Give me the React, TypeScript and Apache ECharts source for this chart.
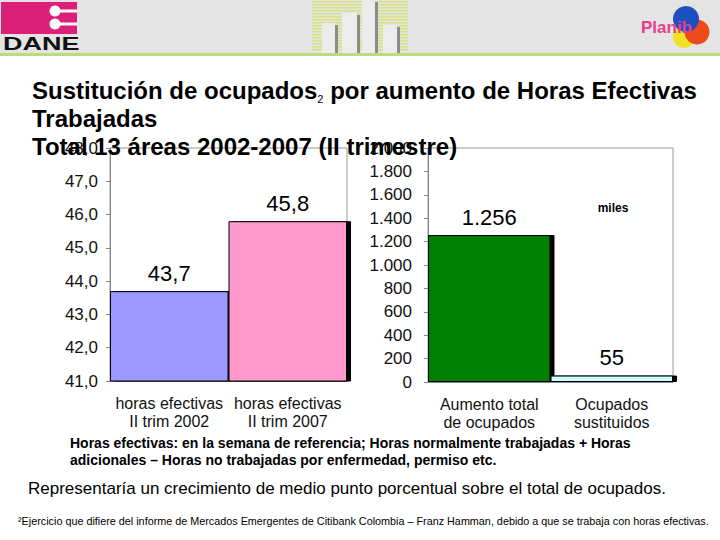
import React, { useEffect, useRef } from "react";
import * as echarts from "echarts";

const hoursCategories = ["horas efectivas\nII trim 2002", "horas efectivas\nII trim 2007"];
const hoursValues = [43.7, 45.8];
const hoursColors = ["#9999ff", "#ff99cc"];
const hoursMin = 41;
const hoursMax = 48;
const hoursStep = 1;

const workersCategories = ["Aumento total\nde ocupados", "Ocupados\nsustituidos"];
const workersValues = [1256, 55];
const workersColors = ["#008000", "#ccffff"];
const workersMin = 0;
const workersMax = 2000;
const workersStep = 200;

const titleLines = [
  "Sustitución de ocupados{sub|2} por aumento de Horas Efectivas",
  "Trabajadas",
  "Total 13 áreas 2002-2007 (II trimestre)",
];
const noteLines = [
  "Horas efectivas: en la semana de referencia; Horas normalmente trabajadas + Horas",
  "adicionales – Horas no trabajadas por enfermedad, permiso etc.",
];
const conclusion = "Representaría un crecimiento de medio punto porcentual sobre el total de ocupados.";
const footnote =
  "²Ejercicio que difiere del informe de Mercados Emergentes de Citibank Colombia – Franz Hamman, debido a que se trabaja con horas efectivas.";
const unitLabel = "miles";

const FONT = "'Liberation Sans', Arial, sans-serif";

const fmtComma = (v: number) => v.toFixed(1).replace(".", ",");
const fmtThousands = (v: number) => String(Math.round(v)).replace(/\B(?=(\d{3})+(?!\d))/g, ".");

function headerGraphics(): any[] {
  const g: any[] = [];
  g.push({ type: "rect", shape: { x: 0, y: 0, width: 720, height: 53 }, style: { fill: "#e4e4e4" }, z: 0 });
  g.push({ type: "rect", shape: { x: 0, y: 53, width: 720, height: 3 }, style: { fill: "#b9dc7e" }, z: 1 });
  // DANE logo
  g.push({ type: "rect", shape: { x: 1, y: 2, width: 76, height: 32 }, style: { fill: "#dc1f78" }, z: 2 });
  g.push({ type: "rect", shape: { x: 54, y: 9.5, width: 23, height: 3 }, style: { fill: "#ffffff" }, z: 3 });
  g.push({ type: "rect", shape: { x: 54, y: 22.5, width: 23, height: 3 }, style: { fill: "#ffffff" }, z: 3 });
  g.push({ type: "circle", shape: { cx: 55, cy: 11, r: 5.5 }, style: { fill: "#ffffff" }, z: 3 });
  g.push({ type: "circle", shape: { cx: 55, cy: 24, r: 5.5 }, style: { fill: "#ffffff" }, z: 3 });
  g.push({
    type: "text",
    x: 3,
    y: 44,
    scaleX: 1.5,
    style: { text: "DANE", font: `bold 18px ${FONT}`, fill: "#111", textVerticalAlign: "middle" },
    z: 3,
  });
  // middle striped logo
  for (let y = 1; y < 52; y += 3) {
    g.push({ type: "rect", shape: { x: 312, y, width: 96, height: 1.5 }, style: { fill: "#d6e27c" }, z: 2 });
  }
  const pillars = [
    [322, 23, 13],
    [342, 13, 15],
    [362, 0, 13],
    [383, 25, 14],
  ];
  pillars.forEach(([x, y, w]) => {
    g.push({ type: "rect", shape: { x, y, width: w, height: 53 - y }, style: { fill: "#ececec" }, z: 3 });
    g.push({ type: "rect", shape: { x: x + w, y: y + 2, width: 3, height: 51 - y }, style: { fill: "#8c8c8c" }, z: 3 });
  });
  // Planib logo
  g.push({ type: "circle", shape: { cx: 684, cy: 37, r: 11 }, style: { fill: "#f2e024" }, z: 2 });
  g.push({ type: "circle", shape: { cx: 697, cy: 32, r: 12.5 }, style: { fill: "#ee4a1e" }, z: 2 });
  g.push({ type: "circle", shape: { cx: 686, cy: 19, r: 13 }, style: { fill: "#1e4fc0" }, z: 2 });
  g.push({
    type: "text",
    x: 641,
    y: 27,
    style: { text: "Planib", font: `bold 17px ${FONT}`, fill: "#e4408c", textVerticalAlign: "middle" },
    z: 4,
  });
  return g;
}

export default function App() {
  const ref = useRef<HTMLDivElement>(null);

  useEffect(() => {
    document.body.style.margin = "0";
    if (!ref.current) return;
    const chart = echarts.init(ref.current, undefined, { renderer: "svg" });

    const barItems = (vals: number[], colors: string[]) =>
      vals.map((v, i) => ({
        value: v,
        itemStyle: {
          color: colors[i],
          borderColor: "#000",
          borderWidth: 1,
          shadowColor: "#000",
          shadowBlur: 0,
          shadowOffsetX: 4,
          shadowOffsetY: 0,
        },
      }));

    const axisLabelStyle = { color: "#111", fontSize: 17, fontFamily: FONT };
    const catLabelStyle = { color: "#111", fontSize: 16, fontFamily: FONT };

    chart.setOption({
      animation: false,
      backgroundColor: "#ffffff",
      title: {
        left: 32,
        top: 76,
        padding: 0,
        text: titleLines.join("\n"),
        textStyle: {
          fontFamily: FONT,
          fontSize: 24,
          fontWeight: "bold",
          color: "#000",
          lineHeight: 28,
          rich: {
            sub: { fontSize: 11, fontWeight: "normal", color: "#000", fontFamily: FONT, verticalAlign: "bottom" },
          },
        },
        z: 10,
      },
      grid: [
        { left: 110, right: 373, top: 148, bottom: 159, show: true, borderColor: "#999", borderWidth: 1, backgroundColor: "#fff" },
        { left: 428, right: 47, top: 148, bottom: 158, show: true, borderColor: "#999", borderWidth: 1, backgroundColor: "#fff" },
      ],
      xAxis: [
        {
          type: "category",
          gridIndex: 0,
          data: hoursCategories,
          axisLine: { lineStyle: { color: "#888" } },
          axisTick: { length: 5, lineStyle: { color: "#888" } },
          axisLabel: { ...catLabelStyle, interval: 0, lineHeight: 18, margin: 13 },
        },
        {
          type: "category",
          gridIndex: 1,
          data: workersCategories,
          axisLine: { lineStyle: { color: "#888" } },
          axisTick: { length: 5, lineStyle: { color: "#888" } },
          axisLabel: { ...catLabelStyle, interval: 0, lineHeight: 18, margin: 13 },
        },
      ],
      yAxis: [
        {
          type: "value",
          gridIndex: 0,
          min: hoursMin,
          max: hoursMax,
          interval: hoursStep,
          splitLine: { show: false },
          axisLine: { show: true, lineStyle: { color: "#888" } },
          axisTick: { show: true, length: 4, lineStyle: { color: "#888" } },
          axisLabel: { ...axisLabelStyle, margin: 12, formatter: fmtComma },
        },
        {
          type: "value",
          gridIndex: 1,
          min: workersMin,
          max: workersMax,
          interval: workersStep,
          splitLine: { show: false },
          axisLine: { show: true, lineStyle: { color: "#888" } },
          axisTick: { show: true, length: 4, lineStyle: { color: "#888" } },
          axisLabel: { ...axisLabelStyle, margin: 16, formatter: fmtThousands },
        },
      ],
      series: [
        {
          type: "bar",
          xAxisIndex: 0,
          yAxisIndex: 0,
          barWidth: "100%",
          barCategoryGap: "0%",
          clip: true,
          data: barItems(hoursValues, hoursColors),
          label: {
            show: true,
            position: "top",
            distance: 7,
            color: "#000",
            fontSize: 22,
            fontFamily: FONT,
            formatter: (p: any) => fmtComma(p.value),
          },
        },
        {
          type: "bar",
          xAxisIndex: 1,
          yAxisIndex: 1,
          barWidth: "100%",
          barCategoryGap: "0%",
          clip: true,
          data: barItems(workersValues, workersColors),
          label: {
            show: true,
            position: "top",
            distance: 7,
            color: "#000",
            fontSize: 22,
            fontFamily: FONT,
            formatter: (p: any) => fmtThousands(p.value),
          },
        },
      ],
      graphic: [
        ...headerGraphics(),
        {
          type: "text",
          x: 613,
          y: 208,
          style: { text: unitLabel, font: `bold 12px ${FONT}`, fill: "#000", textAlign: "center", textVerticalAlign: "middle" },
          z: 5,
        },
        {
          type: "text",
          x: 70,
          y: 443,
          style: { text: noteLines[0], font: `bold 14px ${FONT}`, fill: "#000", textVerticalAlign: "middle" },
        },
        {
          type: "text",
          x: 70,
          y: 460,
          style: { text: noteLines[1], font: `bold 14px ${FONT}`, fill: "#000", textVerticalAlign: "middle" },
        },
        {
          type: "text",
          x: 28,
          y: 488,
          style: { text: conclusion, font: `17px ${FONT}`, fill: "#000", textVerticalAlign: "middle" },
        },
        {
          type: "text",
          x: 18,
          y: 521,
          style: { text: footnote, font: `10.8px ${FONT}`, fill: "#000", textVerticalAlign: "middle" },
        },
      ],
    });

    return () => chart.dispose();
  }, []);

  return <div ref={ref} style={{ width: 720, height: 540 }} />;
}
